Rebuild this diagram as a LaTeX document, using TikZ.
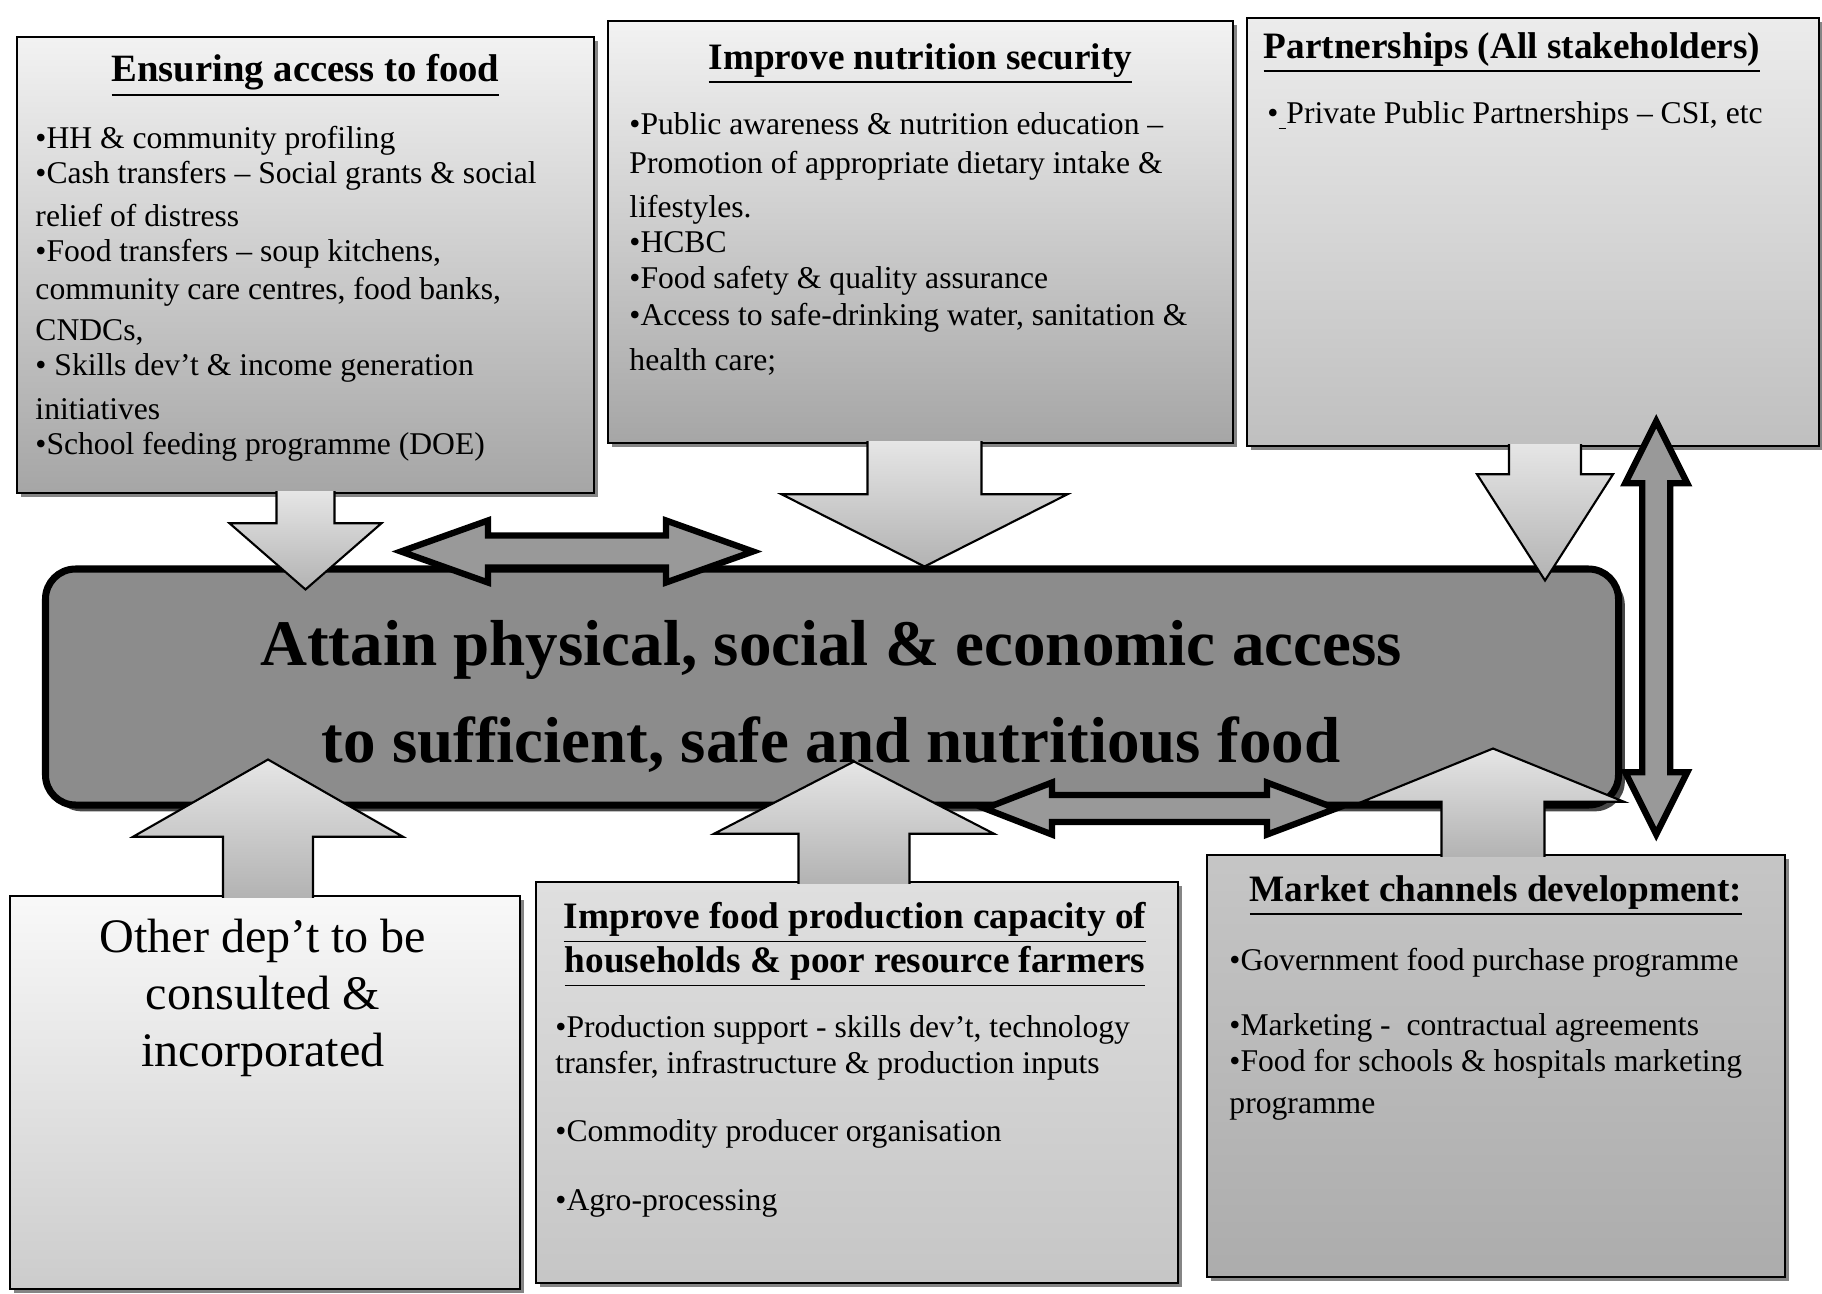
\documentclass[tikz,border=0pt]{standalone}
\usepackage{fontspec}
\setmainfont{Liberation Serif}
\usetikzlibrary{shapes,arrows,shadows,calc}

\begin{document}
\begin{tikzpicture}[text=black,
    card/.style={draw, line width=0.7pt, inner sep=0pt,
      drop shadow={shadow xshift=1.2pt, shadow yshift=-1.2pt, fill=black!60, opacity=0.8}},
    heading/.style={font=\fontsize{10.6}{12.5}\selectfont\bfseries, align=center, inner sep=0pt},
    points/.style={font=\fontsize{9}{10}\selectfont, align=left, anchor=north west, inner sep=0pt},
    blockarrow/.style={draw, line width=0.6pt, line join=miter, top color=gray!20, bottom color=gray!60},
    twoway/.style={draw, line width=1.8pt, line join=miter, fill=black!40}]

\useasboundingbox (0,0) rectangle (18.22,-12.93);

% the goal in the middle
\node (goal) at (8.32,-6.87) [draw, line width=2pt, rounded corners=0.3cm, fill=black!45,
    minimum width=15.73cm, minimum height=2.36cm,
    drop shadow={shadow xshift=1.8pt, shadow yshift=-1.8pt, fill=black!80, opacity=0.9}] {};

% boxes above
\path (goal.center)+(-5.265,4.22) node (access) [card, top color=gray!10, bottom color=gray!70,
    minimum width=5.77cm, minimum height=4.56cm] {};
\path (goal.center)+(0.885,4.55) node (nutrition) [card, top color=gray!10, bottom color=gray!70,
    minimum width=6.25cm, minimum height=4.22cm] {};
\path (goal.center)+(7.01,4.55) node (partners) [card, top color=gray!15, bottom color=gray!50,
    minimum width=5.72cm, minimum height=4.28cm] {};

% boxes below
\path (goal.center)+(-5.67,-4.055) node (otherdept) [card, top color=gray!5, bottom color=gray!40,
    minimum width=5.10cm, minimum height=3.93cm] {};
\path (goal.center)+(0.25,-3.955) node (farming) [card, top color=gray!25, bottom color=gray!45,
    minimum width=6.42cm, minimum height=4.01cm] {};
\path (goal.center)+(6.64,-3.79) node (markets) [card, top color=gray!45, bottom color=gray!65,
    minimum width=5.78cm, minimum height=4.22cm] {};

% texts of the boxes
\path (access.north)+(0,-0.40) node (accesstitle) [heading, font=\fontsize{11}{12.5}\selectfont\bfseries]
    {\underline{Ensuring access to food}};
\path (access.north west)+(0.19,-0.90) node (accesslist) [points]
    {\textbullet HH \& community profiling\\
     \textbullet Cash transfers -- Social grants \& social\\[2.1pt]
     relief of distress\\
     \textbullet Food transfers -- soup kitchens,\\[0.8pt]
     community care centres, food banks,\\[1.7pt]
     CNDCs,\\
     \textbullet\ Skills dev't \& income generation\\[2.3pt]
     initiatives\\
     \textbullet School feeding programme (DOE)};

\path (nutrition.north)+(0,-0.44) node (nutritiontitle) [heading] {\underline{Improve nutrition security}};
\path (nutrition.north west)+(0.22,-0.92) node (nutritionlist) [points]
    {\textbullet Public awareness \& nutrition education --\\[1pt]
     Promotion of appropriate dietary intake \&\\[2.5pt]
     lifestyles.\\
     \textbullet HCBC\\[0.4pt]
     \textbullet Food safety \& quality assurance\\[0.4pt]
     \textbullet Access to safe-drinking water, sanitation \&\\[2.8pt]
     health care;};

\path (partners.north)+(-0.21,-0.36) node (partnerstitle) [heading] {\underline{Partnerships (All stakeholders)}};
\path (partners.north west)+(0.21,-0.84) node (partnerslist) [points]
    {\textbullet\underline{\ }Private Public Partnerships -- CSI, etc};

\path (otherdept.north)+(-0.02,-1.03) node (otherdepttext) [align=center, inner sep=0pt,
    font=\fontsize{13.7}{16.3}\selectfont] {Other dep't to be\\ consulted \&\\ incorporated};

\path (farming.north)+(-0.02,-0.64) node (farmingtitle) [heading]
    {\underline{Improve food production capacity of}\\ \underline{households \& poor resource farmers}};
\path (farming.north west)+(0.20,-1.34) node (farminglist) [points]
    {\textbullet Production support - skills dev't, technology\\[0.3pt]
     transfer, infrastructure \& production inputs\\[9.2pt]
     \textbullet Commodity producer organisation\\[9.7pt]
     \textbullet Agro-processing};

\path (markets.north)+(0,-0.42) node (marketstitle) [heading] {\underline{Market channels development:}};
\path (markets.north west)+(0.23,-0.94) node (marketslist) [points]
    {\textbullet Government food purchase programme\\[8.5pt]
     \textbullet Marketing -\ \ contractual agreements\\[0.3pt]
     \textbullet Food for schools \& hospitals marketing\\[1.7pt]
     programme};

% block arrows into the goal
\path[blockarrow] ($(access.south)+(-0.29,0.03)$) -- ++(0,-0.32) -- ++(-0.47,0)
    -- ($(access.south |- goal.north)+(0,-0.24)$) -- ($(access.south)+(0.76,-0.29)$)
    -- ++(-0.47,0) -- ++(0,0.32);
\path[blockarrow] ($(nutrition.south)+(-0.53,0.03)$) -- ++(0,-0.53) -- ++(-0.86,0)
    -- ($(nutrition.south |- goal.north)+(0.04,-0.01)$) -- ($(nutrition.south)+(1.47,-0.50)$)
    -- ++(-0.86,0) -- ++(0,0.53);
\path[blockarrow] ($(partners.south)+(-0.24,0.03)$) -- ++(0,-0.30) -- ++(-0.32,0)
    -- ($(partners.south |- goal.north)+(0.12,-0.15)$) -- ($(partners.south)+(0.80,-0.27)$)
    -- ++(-0.32,0) -- ++(0,0.30);

% block arrows out of the goal
\path[blockarrow] ($(otherdept.north)+(-0.42,-0.03)$) -- ++(0,0.61) -- ++(-0.90,0)
    -- ($(otherdept.north |- goal.south)+(0.03,0.49)$) -- ($(otherdept.north)+(1.38,0.58)$)
    -- ++(-0.90,0) -- ++(0,-0.61);
\path[blockarrow] ($(farming.north)+(-0.585,-0.03)$) -- ++(0,0.50) -- ++(-0.845,0)
    -- ($(farming.north |- goal.south)+(-0.03,0.47)$) -- ($(farming.north)+(1.37,0.47)$)
    -- ++(-0.845,0) -- ++(0,-0.50);
\path[blockarrow] ($(markets.north)+(-0.545,-0.03)$) -- ++(0,0.55) -- ++(-0.795,0)
    -- ($(markets.north |- goal.south)+(-0.03,0.60)$) -- ($(markets.north)+(1.28,0.52)$)
    -- ++(-0.795,0) -- ++(0,-0.55);

% two-way arrows
\coordinate (pairleft) at ($(goal.north west)+(3.59,0.14)$);
\filldraw[twoway] (pairleft) -- ++(0.87,0.31) -- ++(0,-0.15) -- ++(1.78,0) -- ++(0,0.15)
    -- ++(0.87,-0.31) -- ++(-0.87,-0.31) -- ++(0,0.15) -- ++(-1.78,0) -- ++(0,-0.15) -- cycle;
\coordinate (tradeleft) at ($(goal.south west)+(9.43,0)$);
\filldraw[twoway] (tradeleft) -- ++(0.67,0.26) -- ++(0,-0.125) -- ++(2.15,0) -- ++(0,0.125)
    -- ++(0.69,-0.26) -- ++(-0.69,-0.26) -- ++(0,0.125) -- ++(-2.15,0) -- ++(0,-0.125) -- cycle;
\coordinate (linktop) at ($(partners.south east)+(-1.64,0.26)$);
\filldraw[twoway] (linktop) -- ++(0.31,-0.62) -- ++(-0.17,0) -- ++(0,-2.89) -- ++(0.17,0)
    -- ++(-0.31,-0.62) -- ++(-0.31,0.62) -- ++(0.17,0) -- ++(0,2.89) -- ++(-0.17,0) -- cycle;

% goal text on top
\node (goaltext) at ($(goal.center)+(-0.01,-0.09)$) [align=center,
    font=\fontsize{18.5}{27.6}\selectfont\bfseries]
    {Attain physical, social \& economic access\\ to sufficient, safe and nutritious food};

\end{tikzpicture}
\end{document}
